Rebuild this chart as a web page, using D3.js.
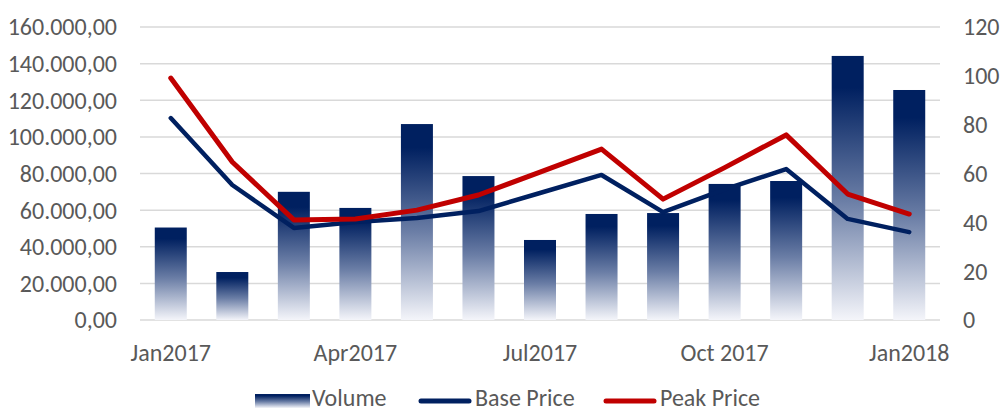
<!DOCTYPE html>
<html>
<head>
<meta charset="utf-8">
<script src="https://cdn.jsdelivr.net/npm/d3@7"></script>
<style>
  body { margin: 0; background: #fff; }
  text { font-family: Carlito, Calibri, "Liberation Sans", sans-serif; fill: #595959; }
</style>
</head>
<body>
<div id="chart"></div>
<script>
var months = ["Jan2017", "Feb2017", "Mar2017", "Apr2017", "May2017", "Jun2017", "Jul2017",
              "Aug2017", "Sep2017", "Oct 2017", "Nov2017", "Dec2017", "Jan2018"];
var shownLabels = ["Jan2017", "Apr2017", "Jul2017", "Oct 2017", "Jan2018"];
var volume = [50500, 26200, 70000, 61200, 107000, 78600, 43700, 57900, 58400, 74300, 75900, 144200, 125600];
var basePrice = [82.7, 55.3, 37.7, 40.1, 41.8, 44.6, 52.0, 59.4, 44.2, 53.5, 61.8, 41.4, 36.0];
var peakPrice = [99.1, 64.7, 41.0, 41.4, 45.0, 51.2, 60.6, 70.0, 49.5, 62.4, 75.8, 51.6, 43.4];
var leftTicks = [0, 20000, 40000, 60000, 80000, 100000, 120000, 140000, 160000];
var rightTicks = [0, 20, 40, 60, 80, 100, 120];

function init() {
    var w = 1000, h = 412;
    var left = 140, right = 940, top = 27, bottom = 320;
    var fs = "24px";

    var svg = d3.select("#chart").append("svg")
        .attr("width", w)
        .attr("height", h);

    var defs = svg.append("defs");
    var grad = defs.append("linearGradient")
        .attr("id", "barGrad")
        .attr("x1", 0).attr("y1", 0).attr("x2", 0).attr("y2", 1);
    grad.append("stop").attr("offset", "0%").attr("stop-color", "#002060");
    grad.append("stop").attr("offset", "12%").attr("stop-color", "#002060");
    grad.append("stop").attr("offset", "55%").attr("stop-color", "#6b7ea6");
    grad.append("stop").attr("offset", "100%").attr("stop-color", "#f4f5fa");

    var x = d3.scaleBand().domain(months).range([left, right]).paddingInner(0.48).paddingOuter(0.24);
    var xc = function(d) { return x(d) + x.bandwidth() / 2; };
    var yL = d3.scaleLinear().domain([0, 160000]).range([bottom, top]);
    var yR = d3.scaleLinear().domain([0, 120]).range([bottom, top]);

    var fmt = function(v) {
        var s = d3.format(",.2f")(v);
        return s.replace(/,/g, "#").replace(".", ",").replace(/#/g, ".");
    };

    // gridlines
    svg.append("g").selectAll("line")
        .data(leftTicks)
        .enter().append("line")
        .attr("x1", left).attr("x2", right)
        .attr("y1", function(d) { return yL(d); })
        .attr("y2", function(d) { return yL(d); })
        .attr("stroke", "#d9d9d9")
        .attr("stroke-width", 1.5);

    // left axis labels
    svg.append("g").selectAll("text")
        .data(leftTicks)
        .enter().append("text")
        .attr("x", 117)
        .attr("y", function(d) { return yL(d); })
        .attr("dy", "0.35em")
        .attr("text-anchor", "end")
        .style("font-size", fs)
        .text(fmt);

    // right axis labels
    svg.append("g").selectAll("text")
        .data(rightTicks)
        .enter().append("text")
        .attr("x", 963)
        .attr("y", function(d) { return yR(d); })
        .attr("dy", "0.35em")
        .style("font-size", fs)
        .text(function(d) { return d; });

    // bars
    svg.append("g").selectAll("rect")
        .data(volume)
        .enter().append("rect")
        .attr("x", function(d, i) { return x(months[i]); })
        .attr("width", x.bandwidth())
        .attr("y", function(d) { return yL(d); })
        .attr("height", function(d) { return bottom - yL(d); })
        .attr("fill", "url(#barGrad)");

    var line = d3.line()
        .x(function(d, i) { return xc(months[i]); })
        .y(function(d) { return yR(d); });

    svg.append("path")
        .datum(basePrice)
        .attr("d", line)
        .attr("fill", "none")
        .attr("stroke", "#002060")
        .attr("stroke-width", 4.5)
        .attr("stroke-linecap", "round")
        .attr("stroke-linejoin", "round");

    svg.append("path")
        .datum(peakPrice)
        .attr("d", line)
        .attr("fill", "none")
        .attr("stroke", "#c00000")
        .attr("stroke-width", 5)
        .attr("stroke-linecap", "round")
        .attr("stroke-linejoin", "round");

    // x labels
    svg.append("g").selectAll("text")
        .data(shownLabels)
        .enter().append("text")
        .attr("x", function(d) { return xc(d); })
        .attr("y", 361)
        .attr("text-anchor", "middle")
        .style("font-size", fs)
        .text(function(d) { return d; });

    // legend
    var lg = svg.append("g");
    lg.append("rect")
        .attr("x", 255).attr("y", 394).attr("width", 55).attr("height", 14)
        .attr("fill", "url(#barGrad)");
    lg.append("text").attr("x", 312).attr("y", 406).style("font-size", fs).text("Volume");
    lg.append("line")
        .attr("x1", 421).attr("x2", 469).attr("y1", 401).attr("y2", 401)
        .attr("stroke", "#002060").attr("stroke-width", 5).attr("stroke-linecap", "round");
    lg.append("text").attr("x", 475).attr("y", 406).style("font-size", fs).text("Base Price");
    lg.append("line")
        .attr("x1", 606).attr("x2", 654).attr("y1", 401).attr("y2", 401)
        .attr("stroke", "#c00000").attr("stroke-width", 5).attr("stroke-linecap", "round");
    lg.append("text").attr("x", 660).attr("y", 406).style("font-size", fs).text("Peak Price");
}

window.onload = init;
</script>
</body>
</html>
